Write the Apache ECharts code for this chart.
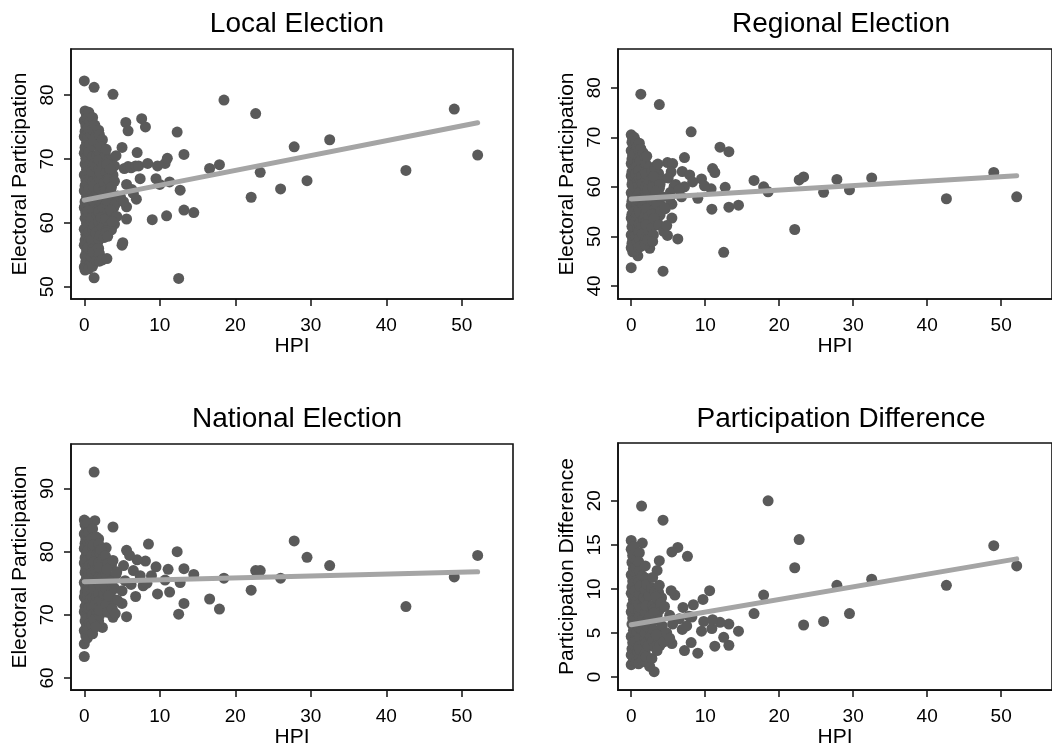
<!DOCTYPE html>
<html><head><meta charset="utf-8">
<script src="https://cdn.jsdelivr.net/npm/echarts@6/dist/echarts.min.js"></script>
<style>html,body{margin:0;padding:0;background:#fff}#c{width:1052px;height:749px}</style>
</head><body><div id="c"></div>
<script>
// ---------- data ----------
const panelTitles = ['Local Election', 'Regional Election', 'National Election', 'Participation Difference'];
const yNames = ['Electoral Participation', 'Electoral Participation', 'Electoral Participation', 'Participation Difference'];
const xName = 'HPI';
const xTicks = [0, 10, 20, 30, 40, 50];
const yTicksLocal = [50, 60, 70, 80];
const yTicksRegional = [40, 50, 60, 70, 80];
const yTicksNational = [60, 70, 80, 90];
const yTicksDiff = [0, 5, 10, 15, 20];

// fitted line end points, at HPI = fitX
const fitX = [0, 52.1];
const fitLocal = [63.55, 75.65];
const fitRegional = [57.55, 62.25];
const fitNational = [75.25, 76.8];
const fitDiff = [5.92, 13.41];

// [HPI, value]
const localPts = [
 [0.0,82.2],[0.1,77.5],[0.3,76.8],[0.0,76.0],[0.2,75.2],[0.1,74.3],[0.0,73.5],[0.3,72.6],[0.1,71.8],[0.0,70.9],[0.2,70.1],[0.1,69.2],[0.3,68.4],[0.0,67.5],[0.2,66.7],[0.1,65.8],[0.0,65.0],[0.3,64.1],[0.1,63.3],[0.0,62.4],[0.2,61.6],[0.1,60.7],[0.3,59.9],[0.0,59.0],[0.2,58.2],[0.1,57.3],[0.0,56.5],[0.3,55.6],[0.1,54.8],[0.2,53.9],[0.0,53.1],[0.1,52.6],
 [0.4,76.4],[0.4,74.6],[0.5,73.2],[0.4,71.3],[0.4,69.8],[0.5,68.9],[0.4,66.2],[0.4,64.7],[0.5,63.0],[0.4,61.1],[0.4,59.4],[0.5,57.9],[0.4,56.0],[0.4,54.3],
 [0.6,77.3],[0.8,75.9],[0.5,74.8],[0.9,73.9],[0.7,72.2],[0.6,71.1],[0.9,69.6],[0.5,68.1],[0.8,66.9],[0.6,65.3],[1.0,64.4],[0.7,62.9],[0.5,61.8],[0.9,60.3],[0.6,58.6],[0.8,57.7],[0.5,56.1],[0.9,54.7],[0.7,53.4],[0.6,52.8],
 [1.1,76.5],[1.1,74.6],[1.0,72.0],[1.1,70.3],[1.0,68.0],[1.1,66.4],[1.1,64.9],[1.0,63.6],[1.1,62.1],[1.0,60.8],[1.1,59.0],[1.0,57.4],[1.1,55.9],[1.0,54.6],[1.1,53.2],
 [1.3,81.2],[1.4,75.3],[1.6,73.8],[1.2,72.9],[1.7,70.6],[1.3,69.3],[1.5,68.8],[1.8,67.2],[1.2,65.7],[1.6,64.6],[1.4,63.1],[1.7,61.2],[1.3,59.6],[1.5,58.4],[1.8,57.0],[1.2,55.4],[1.6,54.1],[1.3,51.4],
 [1.9,74.5],[1.9,72.3],[2.0,70.9],[1.9,69.8],[1.9,68.3],[2.0,66.9],[1.9,65.3],[1.9,64.0],[2.0,62.6],[1.9,61.7],[1.9,60.2],[2.0,58.9],[1.9,57.4],[1.9,56.0],[2.0,55.2],
 [2.0,73.8],[2.4,73.0],[2.2,71.9],[2.5,69.0],[2.1,67.8],[2.6,66.3],[2.3,64.8],[2.0,63.5],[2.5,62.3],[2.2,60.8],[2.4,59.3],[2.1,58.0],[2.6,57.7],[2.0,54.0],[2.4,54.2],
 [2.8,70.7],[3.1,69.8],[2.9,67.9],[3.3,67.3],[2.8,65.0],[3.2,64.5],[2.9,63.0],[3.1,61.5],[2.8,60.6],[3.2,59.4],[2.9,58.8],
 [3.6,69.8],[4.0,68.9],[3.8,67.5],[3.5,65.2],[4.3,63.9],[3.9,62.4],[3.6,61.8],[4.0,59.8],[3.6,58.9],
 [2.9,71.5],[4.2,70.5],[3.0,69.2],[3.4,68.4],[3.2,66.8],[4.0,66.5],[3.6,65.6],[4.4,64.2],[3.0,63.5],[4.1,62.9],[3.5,62.0],[4.3,61.0],[3.7,60.2],[2.9,58.5],[3.1,57.9],[3.0,54.4],[3.8,80.1],
 [5.0,71.8],[5.3,68.5],[5.8,68.8],[6.2,68.6],[6.8,68.9],[7.2,68.9],[5.6,66.0],[6.3,65.2],[6.5,64.6],[6.9,63.7],[7.4,66.9],[5.6,62.5],[5.6,60.6],[5.0,56.5],[5.1,56.9],[5.5,75.7],[5.8,74.4],[7.6,76.3],[8.1,75.0],[7.0,71.0],[4.8,64.0],[5.2,63.3],
 [8.4,69.3],[9.7,68.9],[10.7,69.3],[11.0,70.1],[9.0,60.5],[9.5,66.9],[10.0,66.0],[11.3,66.4],[10.9,61.1],[12.3,74.2],[12.7,65.1],[13.2,70.7],[13.2,62.0],[14.5,61.6],[12.5,51.3],[16.6,68.5],[17.9,69.1],[18.5,79.2],[22.1,64.0],[22.7,77.1],[23.3,67.9],[26.0,65.3],[27.8,71.9],[29.5,66.6],[32.5,73.0],[42.6,68.2],[49.0,77.8],[52.1,70.6]
];
const regionalPts = [
 [1.3,78.7],[3.8,76.6],[8.1,71.1],[12.0,68.0],[13.2,67.1],[16.6,61.3],[17.9,60.0],[18.5,59.0],[22.1,51.4],[22.7,61.4],[23.3,62.0],[26.0,58.9],[27.8,61.5],[29.5,59.4],[32.5,61.8],[42.6,57.6],[49.0,62.9],[52.1,58.0],[12.5,46.8],[13.2,55.9],[14.5,56.3],[10.9,55.5],[12.7,59.9],[11.0,63.7],[11.3,62.9],[10.8,59.6],[9.5,61.6],[9.9,60.2],[9.0,57.7],[7.2,65.9],[6.9,63.1],[7.9,62.4],[8.3,61.0],[6.8,58.0],[7.2,60.0],[4.9,64.9],[5.6,64.7],[5.5,56.5],[5.5,53.7],[6.3,49.5],[4.9,50.2],[4.3,43.0],[0.0,43.7],[0.9,46.1],[2.5,47.6],
 [0.0,70.5],[0.2,69.8],[0.1,69.0],[0.3,68.1],[0.0,67.3],[0.2,66.4],[0.1,65.6],[0.0,64.7],[0.3,63.9],[0.1,63.0],[0.0,62.2],[0.2,61.3],[0.1,60.5],[0.3,59.6],[0.0,58.8],[0.2,57.9],[0.1,57.1],[0.0,56.2],[0.3,55.4],[0.1,54.5],[0.0,53.7],[0.2,52.8],[0.1,52.0],[0.3,51.1],[0.0,50.3],[0.2,49.4],[0.1,48.6],[0.0,47.7],[0.2,46.9],
 [0.4,70.0],[0.4,68.5],[0.5,67.0],[0.4,65.3],[0.4,63.6],[0.5,62.0],[0.4,60.1],[0.4,58.4],[0.5,56.8],[0.4,55.0],[0.4,53.3],[0.5,51.7],[0.4,50.0],[0.4,48.3],[0.5,47.0],
 [0.6,69.2],[0.8,68.0],[0.5,66.6],[0.9,65.1],[0.7,64.0],[0.6,62.6],[0.9,61.0],[0.5,59.8],[0.8,58.3],[0.6,57.0],[1.0,55.8],[0.7,54.2],[0.5,53.0],[0.9,51.6],[0.6,50.0],[0.8,48.8],[0.5,47.3],
 [1.1,68.8],[1.0,67.3],[1.1,65.8],[1.0,63.2],[1.1,61.8],[1.0,60.1],[1.1,58.8],[1.0,57.3],[1.1,55.3],[1.0,53.8],[1.1,52.5],[1.0,50.9],[1.1,49.5],[1.0,47.8],
 [1.3,67.7],[1.6,66.9],[1.2,65.2],[1.7,63.7],[1.4,62.1],[1.5,60.6],[1.8,59.2],[1.3,57.6],[1.6,56.4],[1.2,54.8],[1.7,53.3],[1.4,51.9],[1.5,50.5],[1.8,49.0],[1.3,48.0],
 [1.9,66.0],[2.0,64.6],[1.9,63.0],[2.0,61.6],[1.9,60.0],[2.0,58.4],[1.9,57.0],[2.0,55.5],[1.9,54.1],[2.0,52.9],[1.9,51.2],[2.0,49.8],[1.9,48.4],
 [2.1,66.2],[2.4,64.0],[2.0,62.6],[2.5,61.2],[2.2,59.4],[2.6,57.2],[2.1,55.6],[2.4,54.0],[2.0,52.4],[2.5,50.9],[2.2,49.3],
 [2.8,63.1],[3.1,61.0],[2.9,59.9],[3.2,58.2],[2.8,57.4],[3.0,55.2],[2.9,54.5],[3.2,52.9],[2.8,51.8],[3.0,50.3],[2.9,49.0],
 [3.7,62.7],[4.1,61.5],[3.8,59.7],[3.6,57.3],[4.2,56.0],[3.9,54.3],[3.5,53.1],[4.6,55.6],
 [3.4,64.3],[3.2,63.7],[3.6,64.6],[3.0,62.1],[3.9,60.5],[3.3,59.1],[4.2,58.0],[3.5,56.6],[4.0,55.1],[3.1,53.6],[3.7,52.3],[4.4,51.0],[4.5,55.8],
 [5.4,63.0],[5.0,61.8],[6.0,60.5],[5.8,60.1],[5.3,58.9],[5.2,57.7],[4.8,52.2],[6.5,59.5]
];
const nationalPts = [
 [1.3,92.6],[0.0,85.0],[1.4,84.9],[3.8,83.9],[0.0,63.4],[0.0,65.4],[27.8,81.7],[29.5,79.1],[32.5,77.8],[52.1,79.4],[49.0,76.0],[42.6,71.3],[26.0,75.8],[22.7,77.0],[23.3,77.0],[22.1,73.9],[18.5,75.8],[17.9,70.9],[16.6,72.5],[14.5,76.4],[13.2,77.3],[13.2,71.8],[12.5,70.1],[12.7,75.1],[12.3,80.0],[11.1,77.2],[11.3,73.6],[10.7,75.5],[9.7,73.3],[9.5,77.6],[8.5,81.2],[8.9,76.2],[8.1,78.5],[7.0,78.7],[6.8,72.9],[5.6,80.2],[5.6,69.7],[5.0,71.8],[3.8,69.6],[2.4,68.0],[1.9,69.0],[2.9,80.6],[1.9,82.0],[3.4,78.5],
 [0.1,84.3],[0.3,83.6],[0.0,82.8],[0.2,82.0],[0.1,81.3],[0.0,80.5],[0.3,79.7],[0.1,79.0],[0.0,78.2],[0.2,77.4],[0.1,76.7],[0.3,75.9],[0.0,75.1],[0.2,74.4],[0.1,73.6],[0.0,72.8],[0.3,72.1],[0.1,71.3],[0.0,70.5],[0.2,69.8],[0.1,69.0],[0.3,68.2],[0.0,67.5],[0.2,66.7],
 [0.4,84.6],[0.4,83.0],[0.5,81.6],[0.4,80.0],[0.4,78.6],[0.5,77.0],[0.4,75.5],[0.4,74.0],[0.5,72.5],[0.4,71.0],[0.4,69.4],[0.5,68.0],[0.4,66.3],
 [0.6,83.0],[0.8,81.7],[0.5,80.2],[0.9,79.1],[0.7,77.8],[0.6,76.3],[0.9,75.0],[0.5,73.7],[0.8,72.4],[0.6,71.1],[1.0,69.9],[0.7,68.6],[0.5,67.6],
 [1.1,83.6],[1.0,82.1],[1.1,80.7],[1.0,79.4],[1.1,78.0],[1.0,76.6],[1.1,75.3],[1.0,73.9],[1.1,72.7],[1.0,71.3],[1.1,70.1],[1.0,68.4],[1.1,67.0],
 [1.6,82.3],[1.2,81.1],[1.7,79.6],[1.3,78.4],[1.5,77.0],[1.8,75.6],[1.2,74.2],[1.6,72.9],[1.4,71.6],[1.7,70.3],[1.3,69.2],[1.5,68.1],
 [1.9,81.2],[2.0,79.9],[1.9,78.2],[2.0,77.1],[1.9,75.9],[2.0,74.6],[1.9,73.4],[2.0,72.2],[1.9,71.0],[2.0,69.9],
 [2.2,80.3],[2.5,78.9],[2.0,77.5],[2.4,76.1],[2.1,74.8],[2.6,73.3],[2.3,72.0],[2.0,70.7],
 [2.8,79.3],[3.1,78.1],[2.9,76.5],[3.2,75.1],[2.8,74.3],[3.0,72.7],[2.9,71.6],[3.1,70.4],
 [3.6,77.9],[4.3,76.8],[3.9,75.6],[3.6,73.8],[4.0,72.4],[3.5,71.4],
 [3.8,78.6],[3.0,77.2],[4.2,76.4],[3.5,75.3],[4.0,74.2],[3.2,73.0],[4.4,72.3],[3.7,71.0],[4.1,70.2],
 [6.0,79.4],[5.2,77.8],[6.5,77.0],[7.4,76.2],[5.4,75.4],[6.2,74.8],[7.8,74.6],[5.0,73.8],[8.3,75.0]
];
const diffPts = [
 [1.4,19.4],[4.3,17.8],[18.5,20.0],[22.7,15.6],[22.1,12.4],[49.0,14.9],[52.1,12.6],[42.6,10.4],[32.5,11.1],[27.8,10.4],[29.5,7.2],[26.0,6.3],[23.3,5.9],[17.9,9.3],[16.6,7.2],[14.5,5.2],[13.2,6.0],[13.2,3.6],[12.5,4.5],[12.0,6.2],[11.3,3.5],[10.9,5.5],[10.6,9.8],[11.0,6.5],[9.8,6.3],[9.5,5.2],[9.7,8.8],[9.0,2.7],[8.4,8.2],[8.1,3.9],[7.2,3.0],[7.6,13.7],[7.0,7.9],[6.3,14.7],[5.5,14.2],[5.9,9.3],[5.4,9.8],[6.9,5.4],[5.5,3.8],[3.8,13.2],[3.5,12.1],[1.5,15.2],[0.0,15.5],[0.0,14.5],[3.1,0.6],[2.5,1.2],[0.0,1.4],
 [0.2,13.8],[0.1,13.0],[0.3,12.3],[0.0,11.6],[0.2,10.9],[0.1,10.2],[0.0,9.5],[0.3,8.8],[0.1,8.1],[0.0,7.4],[0.2,6.7],[0.1,6.0],[0.3,5.3],[0.0,4.6],[0.2,3.9],[0.1,3.2],[0.0,2.5],[0.3,1.9],
 [0.4,14.8],[0.5,13.4],[0.4,12.0],[0.4,10.6],[0.5,9.2],[0.4,7.8],[0.4,6.4],[0.5,5.0],[0.4,3.6],[0.4,2.2],
 [0.8,13.3],[0.6,12.4],[0.9,11.0],[0.5,9.8],[0.7,8.6],[1.0,7.5],[0.6,6.3],[0.8,5.1],[0.5,4.0],[0.9,2.9],[0.7,1.7],
 [1.1,14.1],[1.1,12.0],[1.0,10.8],[1.1,9.5],[1.0,8.2],[1.1,6.9],[1.0,5.7],[1.1,4.5],[1.0,3.4],[1.1,2.2],[1.0,1.5],
 [1.0,13.1],[1.5,11.5],[1.2,10.3],[1.7,9.0],[1.3,7.8],[1.6,6.6],[1.4,5.4],[1.8,4.2],[1.2,3.1],[1.5,1.9],
 [1.9,12.6],[2.0,11.2],[1.9,9.9],[2.0,8.7],[1.9,7.4],[2.0,6.2],[1.9,5.0],[2.0,3.9],[1.9,2.7],[2.0,1.7],
 [2.1,10.5],[2.4,9.2],[2.0,8.1],[2.5,6.9],[2.2,5.7],[2.6,4.6],[2.3,3.5],[2.0,2.3],
 [2.8,10.1],[3.2,9.7],[2.9,8.1],[3.1,7.7],[2.8,6.2],[3.0,5.4],[2.9,4.1],[3.2,3.4],[2.8,2.1],
 [3.7,9.6],[4.1,9.0],[3.8,7.6],[3.5,7.0],[4.0,5.3],[3.7,4.4],[3.9,3.6],
 [2.9,11.3],[3.8,10.4],[3.3,9.1],[4.0,8.4],[3.1,7.3],[3.6,6.5],[4.2,5.8],[3.4,4.8],[4.4,4.0],[3.5,3.0],[4.5,8.0],
 [5.2,7.0],[6.5,6.6],[7.8,6.9],[5.6,6.0],[4.8,5.0],[5.2,4.4],[7.5,5.8],[8.2,6.8]
];

// ---------- layout ----------
const FONT = '"Liberation Sans", Arial, Helvetica, sans-serif';
const INK = '#111';
const panels = [
  {pts: localPts, fit: fitLocal, yTicks: yTicksLocal, grid: {left: 71, top: 49, width: 442, height: 250}, x: [-1.76, 56.78], y: [48.08, 87.2], tx: 292, ty: 5},
  {pts: regionalPts, fit: fitRegional, yTicks: yTicksRegional, grid: {left: 618, top: 49, width: 437, height: 250}, x: [-1.785, 56.87], y: [37.38, 87.81], tx: 836, ty: 5},
  {pts: nationalPts, fit: fitNational, yTicks: yTicksNational, grid: {left: 71, top: 444, width: 442, height: 249}, x: [-1.76, 56.78], y: [58.08, 97.04], tx: 292, ty: 400},
  {pts: diffPts, fit: fitDiff, yTicks: yTicksDiff, grid: {left: 618, top: 443, width: 437, height: 251}, x: [-1.785, 56.87], y: [-1.49, 26.56], tx: 836, ty: 400}
];

const option = {
  animation: false,
  backgroundColor: '#fff',
  textStyle: {fontFamily: FONT},
  title: panels.map((p, i) => ({
    text: panelTitles[i], left: p.tx, top: p.ty, textAlign: 'center',
    textStyle: {fontSize: 28, fontWeight: 'normal', color: '#000', fontFamily: FONT}
  })),
  grid: panels.map(p => Object.assign({show: true, borderColor: INK, borderWidth: 1.6}, p.grid)),
  xAxis: panels.map((p, i) => ({
    type: 'value', gridIndex: i, min: p.x[0], max: p.x[1],
    axisLine: {show: true, onZero: false, lineStyle: {color: INK, width: 1.6}}, splitLine: {show: false},
    axisTick: {show: true, length: 7, customValues: xTicks, lineStyle: {color: INK, width: 1.5}},
    axisLabel: {customValues: xTicks, fontSize: 19, color: '#000', margin: 17, fontFamily: FONT},
    name: xName, nameLocation: 'middle', nameGap: 35,
    nameTextStyle: {fontSize: 21, color: '#000', fontFamily: FONT}
  })),
  yAxis: panels.map((p, i) => ({
    type: 'value', gridIndex: i, min: p.y[0], max: p.y[1],
    axisLine: {show: true, onZero: false, lineStyle: {color: INK, width: 1.6}}, splitLine: {show: false},
    axisTick: {show: true, length: 7, customValues: p.yTicks, lineStyle: {color: INK, width: 1.5}},
    axisLabel: {customValues: p.yTicks, fontSize: 19, color: '#000', margin: 14, rotate: 90, fontFamily: FONT},
    name: yNames[i], nameLocation: 'middle', nameGap: 40, nameRotate: 90,
    nameTextStyle: {fontSize: 21, color: '#000', fontFamily: FONT}
  })),
  series: panels.flatMap((p, i) => [
    {type: 'scatter', xAxisIndex: i, yAxisIndex: i, data: p.pts, symbol: 'circle', symbolSize: 11,
     itemStyle: {color: '#5a5a5a', opacity: 1}, z: 2, silent: true},
    {type: 'line', xAxisIndex: i, yAxisIndex: i, data: fitX.map((x, k) => [x, p.fit[k]]),
     showSymbol: false, symbol: 'none', lineStyle: {color: '#a5a5a5', width: 5, cap: 'round'}, z: 3, silent: true}
  ])
};
echarts.init(document.getElementById('c'), null, {renderer: 'canvas'}).setOption(option);
</script></body></html>
